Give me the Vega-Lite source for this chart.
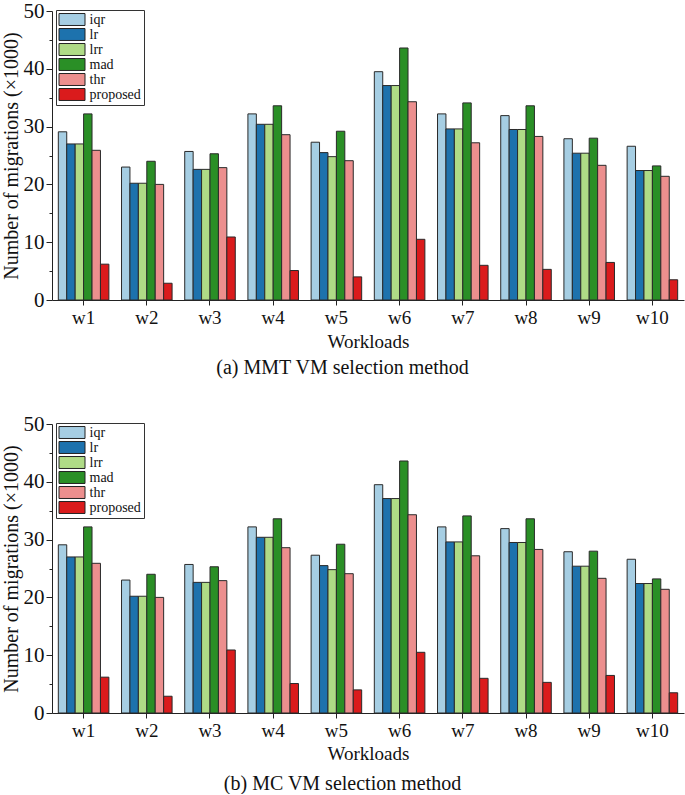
{
  "$schema": "https://vega.github.io/schema/vega-lite/v6.json",
  "background": "white",
  "padding": {"left": 0, "top": 0, "right": 2, "bottom": 0},
  "datasets": {
    "mig": [
      {"workload": "w1", "method": "iqr", "value": 29.1},
      {"workload": "w1", "method": "lr", "value": 27.0},
      {"workload": "w1", "method": "lrr", "value": 27.0},
      {"workload": "w1", "method": "mad", "value": 32.2},
      {"workload": "w1", "method": "thr", "value": 25.9},
      {"workload": "w1", "method": "proposed", "value": 6.2},
      {"workload": "w2", "method": "iqr", "value": 23.0},
      {"workload": "w2", "method": "lr", "value": 20.2},
      {"workload": "w2", "method": "lrr", "value": 20.2},
      {"workload": "w2", "method": "mad", "value": 24.0},
      {"workload": "w2", "method": "thr", "value": 20.0},
      {"workload": "w2", "method": "proposed", "value": 2.9},
      {"workload": "w3", "method": "iqr", "value": 25.7},
      {"workload": "w3", "method": "lr", "value": 22.6},
      {"workload": "w3", "method": "lrr", "value": 22.6},
      {"workload": "w3", "method": "mad", "value": 25.3},
      {"workload": "w3", "method": "thr", "value": 22.9},
      {"workload": "w3", "method": "proposed", "value": 10.9},
      {"workload": "w4", "method": "iqr", "value": 32.2},
      {"workload": "w4", "method": "lr", "value": 30.4},
      {"workload": "w4", "method": "lrr", "value": 30.4},
      {"workload": "w4", "method": "mad", "value": 33.6},
      {"workload": "w4", "method": "thr", "value": 28.6},
      {"workload": "w4", "method": "proposed", "value": 5.1},
      {"workload": "w5", "method": "iqr", "value": 27.3},
      {"workload": "w5", "method": "lr", "value": 25.5},
      {"workload": "w5", "method": "lrr", "value": 24.8},
      {"workload": "w5", "method": "mad", "value": 29.2},
      {"workload": "w5", "method": "thr", "value": 24.1},
      {"workload": "w5", "method": "proposed", "value": 4.0},
      {"workload": "w6", "method": "iqr", "value": 39.5},
      {"workload": "w6", "method": "lr", "value": 37.1},
      {"workload": "w6", "method": "lrr", "value": 37.1},
      {"workload": "w6", "method": "mad", "value": 43.6},
      {"workload": "w6", "method": "thr", "value": 34.3},
      {"workload": "w6", "method": "proposed", "value": 10.5},
      {"workload": "w7", "method": "iqr", "value": 32.2},
      {"workload": "w7", "method": "lr", "value": 29.6},
      {"workload": "w7", "method": "lrr", "value": 29.6},
      {"workload": "w7", "method": "mad", "value": 34.1},
      {"workload": "w7", "method": "thr", "value": 27.2},
      {"workload": "w7", "method": "proposed", "value": 6.0},
      {"workload": "w8", "method": "iqr", "value": 31.9},
      {"workload": "w8", "method": "lr", "value": 29.5},
      {"workload": "w8", "method": "lrr", "value": 29.5},
      {"workload": "w8", "method": "mad", "value": 33.6},
      {"workload": "w8", "method": "thr", "value": 28.3},
      {"workload": "w8", "method": "proposed", "value": 5.3},
      {"workload": "w9", "method": "iqr", "value": 27.9},
      {"workload": "w9", "method": "lr", "value": 25.4},
      {"workload": "w9", "method": "lrr", "value": 25.4},
      {"workload": "w9", "method": "mad", "value": 28.0},
      {"workload": "w9", "method": "thr", "value": 23.3},
      {"workload": "w9", "method": "proposed", "value": 6.5},
      {"workload": "w10", "method": "iqr", "value": 26.6},
      {"workload": "w10", "method": "lr", "value": 22.4},
      {"workload": "w10", "method": "lrr", "value": 22.4},
      {"workload": "w10", "method": "mad", "value": 23.2},
      {"workload": "w10", "method": "thr", "value": 21.4},
      {"workload": "w10", "method": "proposed", "value": 3.5}
    ]
  },
  "config": {
    "font": "Liberation Serif",
    "view": {"stroke": null},
    "axis": {
      "grid": false,
      "domainColor": "#222",
      "tickColor": "#222",
      "labelColor": "#111",
      "titleColor": "#111",
      "labelFont": "Liberation Serif",
      "titleFont": "Liberation Serif",
      "titleFontWeight": "normal"
    },
    "legend": {
      "title": null, "orient": "none", "legendX": 4, "legendY": -1,
      "symbolType": "M-1,-0.92H3V0.92H-1Z", "symbolSize": 169,
      "symbolStrokeWidth": 1, "symbolStrokeColor": "#222", "symbolOpacity": 1,
      "labelFont": "Liberation Serif", "labelFontSize": 14, "labelColor": "#111",
      "labelOffset": 17, "rowPadding": -1.6, "strokeColor": "#333", "fillColor": "white", "padding": 2.5
    },
    "bar": {"stroke": "#2a2a2a", "strokeWidth": 1}
  },
  "resolve": {"legend": {"color": "independent"}},
  "spacing": 35,
  "vconcat": [
    {
      "width": 632,
      "height": 289,
      "title": {"text": "(a) MMT VM selection method", "orient": "bottom", "anchor": "middle", "frame": "bounds", "font": "Liberation Serif", "fontSize": 20, "fontWeight": "normal", "offset": 7, "color": "#111"},
      "data": {"name": "mig"},
      "mark": {"type": "bar"},
      "encoding": {
        "x": {"field": "workload", "type": "nominal", "sort": ["w1","w2","w3","w4","w5","w6","w7","w8","w9","w10"],
              "scale": {"paddingInner": 0.2, "paddingOuter": 0.1},
              "axis": {"title": "Workloads", "labelAngle": 0, "labelFontSize": 19, "titleFontSize": 19, "tickSize": 5, "labelPadding": 3, "titlePadding": 5}},
        "xOffset": {"field": "method", "type": "nominal", "sort": ["iqr","lr","lrr","mad","thr","proposed"], "scale": {"paddingInner": 0}},
        "y": {"field": "value", "type": "quantitative", "scale": {"domain": [0, 50], "nice": false},
              "axis": {"title": "Number of migrations (×1000)", "values": [0,5,10,15,20,25,30,35,40,45,50],
                       "labelExpr": "datum.value % 10 === 0 ? datum.label : ''",
                       "tickSize": {"condition": {"test": "datum.value % 10 === 0", "value": 6}, "value": 3},
                       "labelFontSize": 21, "titleFontSize": 20, "labelPadding": 2, "titlePadding": 2}},
        "color": {"field": "method", "type": "nominal", "sort": ["iqr","lr","lrr","mad","thr","proposed"],
                  "scale": {"domain": ["iqr","lr","lrr","mad","thr","proposed"], "range": ["#a6cee3","#1d72ad","#afdb86","#2a8f26","#ec8f8e","#da1b1c"]}}
      }
    },
    {
      "width": 632,
      "height": 289,
      "title": {"text": "(b) MC VM selection method", "orient": "bottom", "anchor": "middle", "frame": "bounds", "font": "Liberation Serif", "fontSize": 20, "fontWeight": "normal", "offset": 11, "color": "#111"},
      "data": {"name": "mig"},
      "mark": {"type": "bar"},
      "encoding": {
        "x": {"field": "workload", "type": "nominal", "sort": ["w1","w2","w3","w4","w5","w6","w7","w8","w9","w10"],
              "scale": {"paddingInner": 0.2, "paddingOuter": 0.1},
              "axis": {"title": "Workloads", "labelAngle": 0, "labelFontSize": 19, "titleFontSize": 19, "tickSize": 5, "labelPadding": 3, "titlePadding": 4}},
        "xOffset": {"field": "method", "type": "nominal", "sort": ["iqr","lr","lrr","mad","thr","proposed"], "scale": {"paddingInner": 0}},
        "y": {"field": "value", "type": "quantitative", "scale": {"domain": [0, 50], "nice": false},
              "axis": {"title": "Number of migrations (×1000)", "values": [0,5,10,15,20,25,30,35,40,45,50],
                       "labelExpr": "datum.value % 10 === 0 ? datum.label : ''",
                       "tickSize": {"condition": {"test": "datum.value % 10 === 0", "value": 6}, "value": 3},
                       "labelFontSize": 21, "titleFontSize": 20, "labelPadding": 2, "titlePadding": 2}},
        "color": {"field": "method", "type": "nominal", "sort": ["iqr","lr","lrr","mad","thr","proposed"],
                  "scale": {"domain": ["iqr","lr","lrr","mad","thr","proposed"], "range": ["#a6cee3","#1d72ad","#afdb86","#2a8f26","#ec8f8e","#da1b1c"]}}
      }
    }
  ]
}
